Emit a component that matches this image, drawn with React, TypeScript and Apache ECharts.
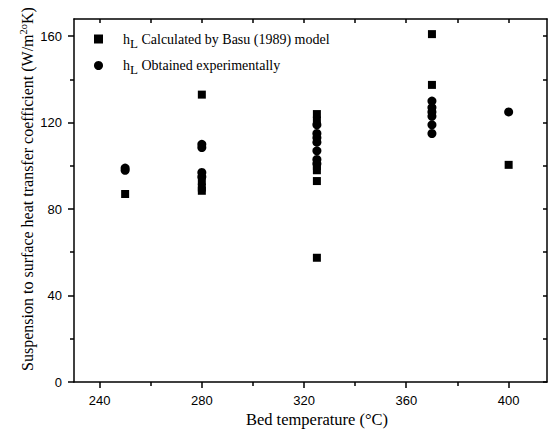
import React, { useEffect, useRef } from "react";
import * as echarts from "echarts";

const xMajorTicks = [240, 280, 320, 360, 400];
const xMinorTicks = [260, 300, 340, 380];
const yMajorTicks = [0, 40, 80, 120, 160];
const yMinorTicks = [20, 60, 100, 140];

const basuTemps = [250, 280, 280, 280, 280, 325, 325, 325, 325, 325, 325, 370, 370, 370, 400];
const basuValues = [87, 133, 93, 90, 88.5, 124, 121, 100, 98, 93, 57.5, 161, 137.5, 126, 100.5];

const expTemps = [250, 250, 280, 280, 280, 280, 325, 325, 325, 325, 325, 325, 325, 370, 370, 370, 370, 370, 370, 400];
const expValues = [99, 98, 110, 108.5, 97, 95, 119, 115, 113, 111, 107, 103, 101, 130, 127, 125, 123, 119, 115, 125];

const basuName = "Basu";
const expName = "Exp";

const X_MIN = 230;
const X_MAX = 415;
const Y_MIN = 0;
const Y_MAX = 168;

const serif = "'Liberation Serif', 'Times New Roman', serif";
const sans = "'Liberation Sans', Arial, sans-serif";

export default function App() {
  const ref = useRef<HTMLDivElement>(null);
  useEffect(() => {
    if (!ref.current) return;
    const chart = echarts.init(ref.current, null, { renderer: "svg" });
    const lineStyle = { color: "#000", width: 1.5 };
    const xRange = { min: X_MIN, max: X_MAX };
    const yRange = { min: Y_MIN, max: Y_MAX };
    chart.setOption({
      animation: false,
      backgroundColor: "#fff",
      grid: { left: 74, right: 5, top: 19, bottom: 57, containLabel: false },
      legend: {
        left: 89,
        top: 27,
        orient: "vertical",
        itemWidth: 9,
        itemHeight: 9,
        itemGap: 9,
        data: [
          { name: basuName, icon: "rect" },
          { name: expName, icon: "circle" },
        ],
        formatter: (name: string) =>
          name === basuName
            ? "{sp|}{h|h}{sub|L}{t| Calculated by Basu (1989) model}"
            : "{sp|}{h|h}{sub|L}{t| Obtained experimentally}",
        textStyle: {
          color: "#000",
          fontFamily: serif,
          fontSize: 14,
          rich: {
            sp: { width: 15 },
            h: { fontFamily: serif, fontSize: 14, color: "#000" },
            sub: { fontFamily: serif, fontSize: 13, color: "#000", verticalAlign: "top", padding: [8, 0, 0, 0] },
            t: { fontFamily: serif, fontSize: 14, color: "#000" },
          },
        },
      },
      xAxis: [
        {
          type: "value",
          ...xRange,
          position: "bottom",
          axisLine: { show: true, onZero: false, lineStyle },
          axisTick: { show: false },
          axisLabel: { customValues: xMajorTicks, color: "#000", fontFamily: sans, fontSize: 13, margin: 12 },
          splitLine: { show: false },
        },
        {
          type: "value",
          ...xRange,
          position: "top",
          axisLine: { show: true, onZero: false, lineStyle },
          axisTick: { show: false },
          axisLabel: { show: false },
          splitLine: { show: false },
        },
      ],
      yAxis: [
        {
          type: "value",
          ...yRange,
          position: "left",
          axisLine: { show: true, onZero: false, lineStyle },
          axisTick: { show: false },
          axisLabel: { customValues: yMajorTicks, color: "#000", fontFamily: sans, fontSize: 13, margin: 12 },
          splitLine: { show: false },
        },
        {
          type: "value",
          ...yRange,
          position: "right",
          axisLine: { show: true, onZero: false, lineStyle },
          axisTick: { show: false },
          axisLabel: { show: false },
          splitLine: { show: false },
        },
      ],
      series: [
        {
          name: basuName,
          type: "scatter",
          xAxisIndex: 0,
          yAxisIndex: 0,
          symbol: "rect",
          symbolSize: 8,
          itemStyle: { color: "#000", opacity: 1 },
          data: basuTemps.map((t, i) => [t, basuValues[i]]),
        },
        {
          name: expName,
          type: "scatter",
          xAxisIndex: 0,
          yAxisIndex: 0,
          symbol: "circle",
          symbolSize: 9,
          itemStyle: { color: "#000", opacity: 1 },
          data: expTemps.map((t, i) => [t, expValues[i]]),
        },
      ],
    });

    const toPx = (x: number, y: number): number[] =>
      chart.convertToPixel({ seriesIndex: 0 }, [x, y]) as number[];
    const tickLine = (x1: number, y1: number, x2: number, y2: number) => ({
      type: "line",
      silent: true,
      z: 100,
      shape: { x1, y1, x2, y2 },
      style: { stroke: "#000", lineWidth: 1.5 },
    });
    const ticks: any[] = [];
    const xTick = (v: number, yv: number, dir: number, len: number) => {
      const p = toPx(v, yv);
      const x = Math.round(p[0]);
      ticks.push(tickLine(x, p[1], x, p[1] + dir * len));
    };
    const yTick = (v: number, xv: number, dir: number, len: number) => {
      const p = toPx(xv, v);
      const y = Math.round(p[1]);
      ticks.push(tickLine(p[0], y, p[0] + dir * len, y));
    };
    xMajorTicks.forEach((v) => xTick(v, Y_MIN, 1, 6));
    xMinorTicks.forEach((v) => xTick(v, Y_MIN, 1, 4));
    [...xMajorTicks, ...xMinorTicks].forEach((v) => xTick(v, Y_MAX, 1, 4));
    yMajorTicks.forEach((v) => yTick(v, X_MIN, -1, 6));
    yMinorTicks.forEach((v) => yTick(v, X_MIN, -1, 4));
    [...yMajorTicks, ...yMinorTicks].forEach((v) => yTick(v, X_MAX, -1, 4));

    chart.setOption({
      graphic: [
        {
          type: "text",
          x: 317,
          y: 419,
          style: {
            text: "Bed temperature (°C)",
            fill: "#000",
            font: `16.5px ${serif}`,
            align: "center",
            verticalAlign: "middle",
          },
        },
        {
          type: "text",
          x: 27,
          y: 189,
          rotation: Math.PI / 2,
          style: {
            text: "{t|Suspension to surface heat transfer coefficient (W/m}{sup|2o}{t|K)}",
            fill: "#000",
            font: `16px ${serif}`,
            align: "center",
            verticalAlign: "middle",
            rich: {
              t: { fontFamily: serif, fontSize: 16, fill: "#000" },
              sup: { fontFamily: serif, fontSize: 10.5, fill: "#000", verticalAlign: "top", padding: [0, 0, 8, 0] },
            },
          },
        },
        ...ticks,
      ],
    });
    return () => chart.dispose();
  }, []);
  return <div ref={ref} style={{ position: "fixed", left: 0, top: 0, width: 552, height: 439 }} />;
}
